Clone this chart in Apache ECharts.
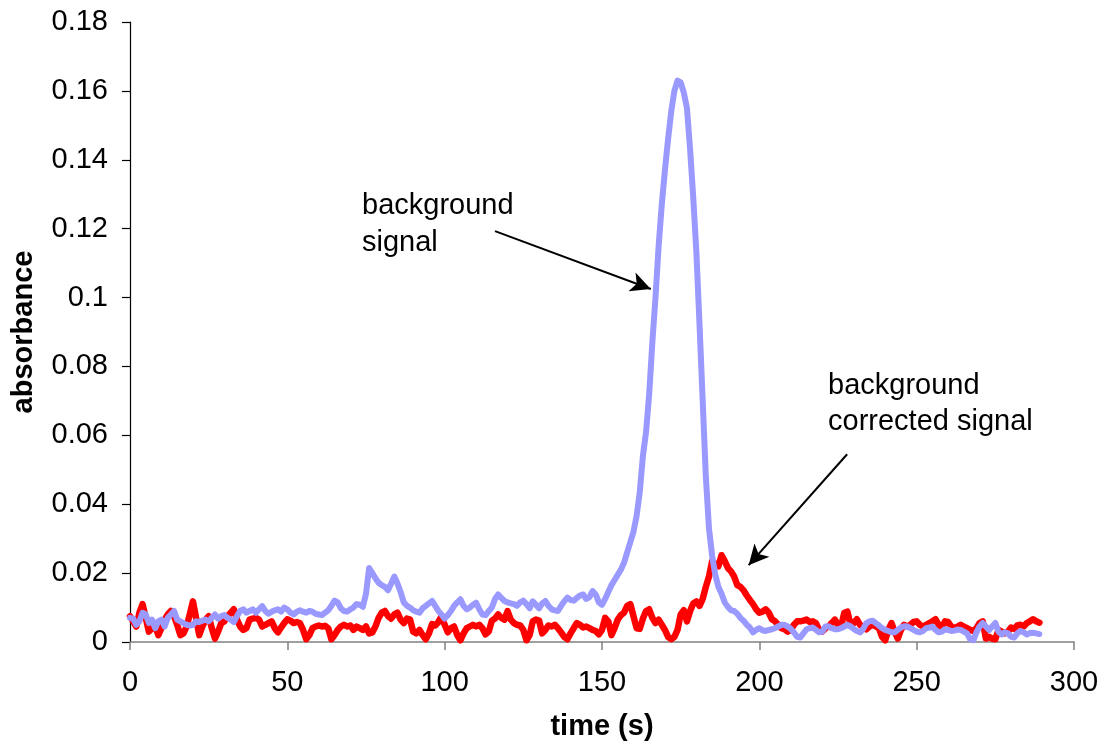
<!DOCTYPE html>
<html>
<head>
<meta charset="utf-8">
<script src="https://cdn.jsdelivr.net/npm/echarts@6/dist/echarts.min.js"></script>
<style>html,body{margin:0;padding:0;background:#fff;}#c{width:1103px;height:746px;}</style>
</head>
<body>
<div id="c"></div>
<script>
// sample time step (s): one reading per second, starting at 0 s
const timeStart = 0;
const timeStep = 1;

const background = [
0.0070,0.0068,0.0050,0.0060,0.0085,0.0080,0.0055,0.0065,0.0040,0.0060,
0.0065,0.0045,0.0070,0.0080,0.0090,0.0065,0.0060,0.0055,0.0050,0.0048,
0.0050,0.0060,0.0058,0.0062,0.0065,0.0060,0.0070,0.0080,0.0068,0.0075,
0.0078,0.0070,0.0065,0.0058,0.0075,0.0090,0.0095,0.0085,0.0090,0.0095,
0.0085,0.0095,0.0104,0.0090,0.0082,0.0088,0.0092,0.0095,0.0088,0.0100,
0.0095,0.0085,0.0080,0.0088,0.0092,0.0088,0.0085,0.0090,0.0088,0.0082,
0.0080,0.0078,0.0085,0.0092,0.0105,0.0120,0.0115,0.0098,0.0090,0.0088,
0.0095,0.0100,0.0110,0.0108,0.0102,0.0140,0.0215,0.0200,0.0185,0.0172,
0.0165,0.0160,0.0150,0.0170,0.0190,0.0170,0.0145,0.0115,0.0105,0.0100,
0.0092,0.0088,0.0085,0.0098,0.0105,0.0112,0.0119,0.0105,0.0090,0.0080,
0.0068,0.0078,0.0090,0.0105,0.0115,0.0124,0.0105,0.0095,0.0100,0.0108,
0.0114,0.0095,0.0080,0.0078,0.0090,0.0100,0.0125,0.0138,0.0128,0.0119,
0.0115,0.0112,0.0110,0.0105,0.0115,0.0120,0.0110,0.0098,0.0118,0.0108,
0.0098,0.0112,0.0119,0.0105,0.0095,0.0092,0.0090,0.0105,0.0118,0.0129,
0.0122,0.0120,0.0128,0.0135,0.0138,0.0125,0.0130,0.0148,0.0138,0.0115,
0.0108,0.0125,0.0145,0.0165,0.0180,0.0195,0.0210,0.0230,0.0260,0.0290,
0.0320,0.0366,0.0435,0.0540,0.0610,0.0720,0.0870,0.1000,0.1150,0.1270,
0.1370,0.1460,0.1540,0.1600,0.1630,0.1625,0.1595,0.1550,0.1430,0.1290,
0.1130,0.0920,0.0700,0.0480,0.0330,0.0250,0.0195,0.0160,0.0140,0.0115,
0.0102,0.0092,0.0090,0.0082,0.0070,0.0062,0.0050,0.0042,0.0028,0.0035,
0.0040,0.0034,0.0032,0.0035,0.0037,0.0040,0.0045,0.0050,0.0050,0.0045,
0.0038,0.0028,0.0015,0.0013,0.0025,0.0037,0.0040,0.0042,0.0035,0.0028,
0.0030,0.0045,0.0046,0.0040,0.0037,0.0037,0.0040,0.0045,0.0050,0.0045,
0.0038,0.0032,0.0028,0.0038,0.0055,0.0060,0.0062,0.0055,0.0048,0.0040,
0.0035,0.0032,0.0028,0.0028,0.0035,0.0042,0.0046,0.0045,0.0040,0.0035,
0.0030,0.0028,0.0032,0.0040,0.0042,0.0045,0.0035,0.0028,0.0030,0.0037,
0.0035,0.0032,0.0033,0.0036,0.0035,0.0030,0.0025,0.0008,0.0005,0.0028,
0.0045,0.0055,0.0045,0.0035,0.0045,0.0055,0.0030,0.0022,0.0028,0.0025,
0.0015,0.0013,0.0025,0.0032,0.0028,0.0022,0.0026,0.0027,0.0025,0.0023
];

const corrected = [
0.0075,0.0060,0.0045,0.0085,0.0110,0.0070,0.0030,0.0040,0.0045,0.0020,
0.0040,0.0065,0.0080,0.0090,0.0075,0.0050,0.0020,0.0025,0.0045,0.0080,
0.0118,0.0070,0.0020,0.0045,0.0065,0.0075,0.0040,0.0010,0.0030,0.0055,
0.0060,0.0075,0.0085,0.0095,0.0065,0.0045,0.0035,0.0040,0.0065,0.0068,
0.0070,0.0065,0.0045,0.0050,0.0055,0.0060,0.0040,0.0028,0.0042,0.0055,
0.0066,0.0062,0.0055,0.0058,0.0055,0.0035,0.0008,0.0020,0.0040,0.0045,
0.0048,0.0045,0.0047,0.0040,0.0008,0.0020,0.0035,0.0045,0.0050,0.0045,
0.0048,0.0035,0.0045,0.0040,0.0035,0.0045,0.0025,0.0028,0.0045,0.0070,
0.0085,0.0090,0.0075,0.0068,0.0080,0.0085,0.0065,0.0055,0.0068,0.0065,
0.0030,0.0025,0.0035,0.0020,0.0008,0.0025,0.0052,0.0048,0.0058,0.0075,
0.0050,0.0028,0.0040,0.0045,0.0020,0.0005,0.0025,0.0040,0.0045,0.0050,
0.0045,0.0050,0.0040,0.0022,0.0030,0.0062,0.0068,0.0080,0.0070,0.0065,
0.0090,0.0065,0.0055,0.0050,0.0048,0.0035,0.0005,0.0020,0.0060,0.0065,
0.0062,0.0025,0.0035,0.0048,0.0045,0.0050,0.0040,0.0028,0.0015,0.0008,
0.0025,0.0040,0.0055,0.0050,0.0042,0.0045,0.0040,0.0035,0.0032,0.0022,
0.0035,0.0070,0.0060,0.0020,0.0040,0.0065,0.0078,0.0085,0.0105,0.0110,
0.0075,0.0040,0.0038,0.0068,0.0090,0.0095,0.0070,0.0055,0.0065,0.0050,
0.0035,0.0015,0.0008,0.0015,0.0035,0.0080,0.0092,0.0060,0.0090,0.0112,
0.0118,0.0105,0.0125,0.0160,0.0190,0.0235,0.0225,0.0220,0.0252,0.0235,
0.0215,0.0205,0.0190,0.0165,0.0160,0.0150,0.0135,0.0122,0.0110,0.0095,
0.0085,0.0088,0.0095,0.0085,0.0066,0.0060,0.0050,0.0040,0.0037,0.0030,
0.0035,0.0050,0.0060,0.0060,0.0062,0.0065,0.0058,0.0060,0.0055,0.0035,
0.0030,0.0040,0.0045,0.0055,0.0065,0.0050,0.0045,0.0085,0.0088,0.0050,
0.0055,0.0066,0.0050,0.0045,0.0037,0.0045,0.0050,0.0045,0.0040,0.0015,
0.0005,0.0035,0.0055,0.0030,0.0010,0.0035,0.0050,0.0045,0.0050,0.0058,
0.0060,0.0050,0.0045,0.0050,0.0055,0.0060,0.0066,0.0050,0.0040,0.0060,
0.0058,0.0045,0.0040,0.0045,0.0050,0.0045,0.0040,0.0035,0.0032,0.0040,
0.0055,0.0060,0.0010,0.0015,0.0010,0.0008,0.0035,0.0030,0.0025,0.0030,
0.0042,0.0038,0.0048,0.0050,0.0045,0.0055,0.0060,0.0066,0.0060,0.0056
];

const xTicks = [0, 50, 100, 150, 200, 250, 300];
const yTicks = [0, 0.02, 0.04, 0.06, 0.08, 0.1, 0.12, 0.14, 0.16, 0.18];

// annotation arrows in data coordinates [time, absorbance]
const arrowBackground = [[116.0, 0.1193], [165.5, 0.1025]];
const arrowCorrected = [[227.9, 0.0545], [196.6, 0.0223]];

const FONT = '"Liberation Sans", Arial, sans-serif';

const toPairs = arr => arr.map((v, i) => [timeStart + i * timeStep, v]);

const chart = echarts.init(document.getElementById('c'), null, {renderer: 'canvas'});
chart.setOption({
  animation: false,
  backgroundColor: '#ffffff',
  grid: {left: 130, right: 29, top: 22, bottom: 103, containLabel: false},
  xAxis: {
    type: 'value',
    min: xTicks[0], max: xTicks[xTicks.length - 1], interval: xTicks[1] - xTicks[0],
    name: 'time (s)', nameLocation: 'middle', nameGap: 70,
    nameTextStyle: {fontFamily: FONT, fontSize: 29, fontWeight: 'bold', color: '#000'},
    axisLine: {lineStyle: {color: '#808080', width: 1.5}},
    axisTick: {show: true, inside: false, length: 8, lineStyle: {color: '#808080', width: 1.5}},
    axisLabel: {fontFamily: FONT, fontSize: 29, color: '#000', margin: 26},
    splitLine: {show: false}
  },
  yAxis: {
    type: 'value',
    min: yTicks[0], max: yTicks[yTicks.length - 1], interval: 0.02,
    name: 'absorbance', nameLocation: 'middle', nameGap: 92,
    nameTextStyle: {fontFamily: FONT, fontSize: 29, fontWeight: 'bold', color: '#000'},
    axisLine: {show: true, lineStyle: {color: '#000', width: 1.2}},
    axisTick: {show: true, inside: false, length: 8, lineStyle: {color: '#000', width: 1.2}},
    axisLabel: {fontFamily: FONT, fontSize: 29, color: '#000', margin: 22,
      formatter: v => String(+v.toFixed(2))},
    splitLine: {show: false}
  },
  series: [
    {
      name: 'background corrected signal',
      type: 'line',
      data: toPairs(corrected),
      showSymbol: false,
      smooth: false,
      z: 2,
      lineStyle: {color: '#ff0000', width: 6.5, cap: 'round', join: 'round'}
    },
    {
      name: 'background signal',
      type: 'line',
      data: toPairs(background),
      showSymbol: false,
      smooth: false,
      z: 3,
      lineStyle: {color: '#9999ff', width: 6, cap: 'round', join: 'round'},
      markLine: {
        silent: true,
        symbol: ['none', 'arrow'],
        symbolSize: [15, 20],
        label: {show: false},
        lineStyle: {color: '#000', width: 2, type: 'solid'},
        emphasis: {disabled: true},
        data: [
          [{coord: arrowBackground[0]}, {coord: arrowBackground[1]}],
          [{coord: arrowCorrected[0]}, {coord: arrowCorrected[1]}]
        ]
      }
    }
  ],
  graphic: [
    {type: 'text', left: 362, top: 187,
     style: {text: 'background\nsignal', font: '29px ' + FONT, fill: '#000', lineHeight: 37}},
    {type: 'text', left: 828, top: 368,
     style: {text: 'background\ncorrected signal', font: '29px ' + FONT, fill: '#000', lineHeight: 36}}
  ]
});
</script>
</body>
</html>
